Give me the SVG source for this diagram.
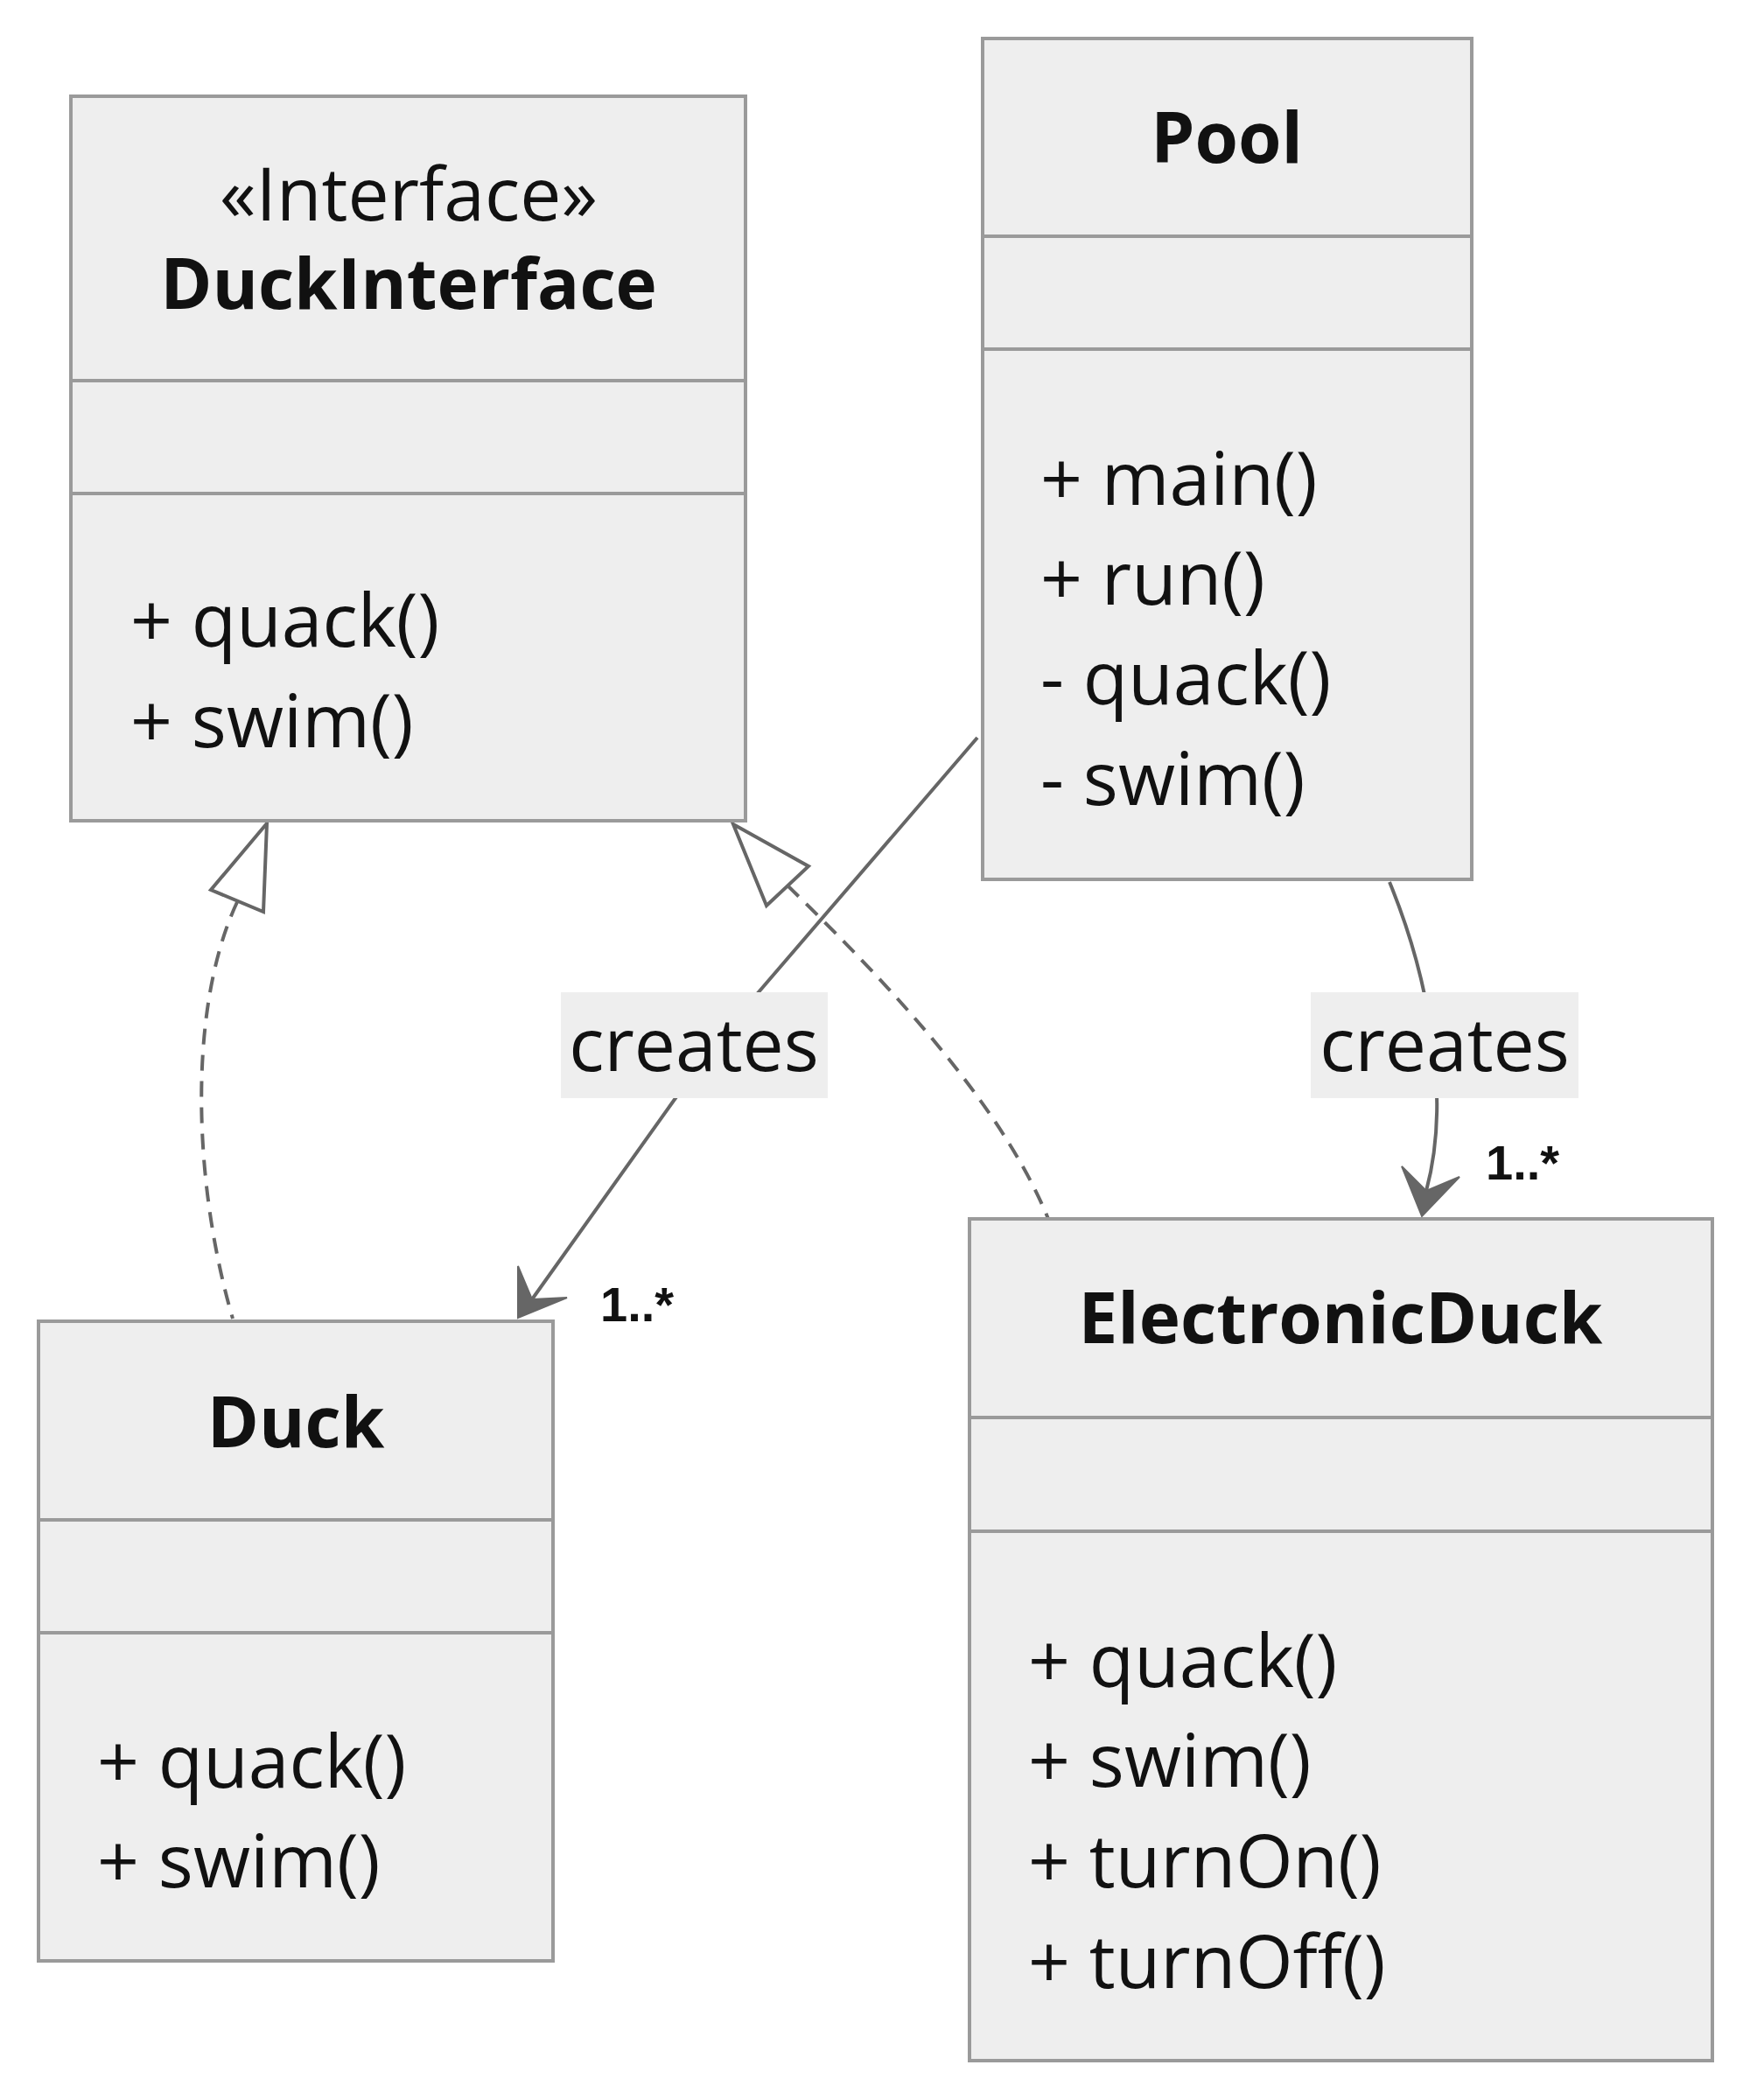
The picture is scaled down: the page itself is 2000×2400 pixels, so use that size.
<svg xmlns="http://www.w3.org/2000/svg" width="2000" height="2400" viewBox="0 0 2000 2400">
<style>
.box{fill:#eeeeee;stroke:#9a9a9a;stroke-width:4}
.div{stroke:#9a9a9a;stroke-width:4}
.t{font-family:"Open Sans","DejaVu Sans",sans-serif;font-size:84px;fill:#111}
.title{font-weight:700;font-size:80px;text-anchor:middle}
.mid{text-anchor:middle}
.edge{fill:none;stroke:#666;stroke-width:4}
.dash{stroke-dasharray:18 12}
.tri{fill:#fff;stroke:#666;stroke-width:4;stroke-linejoin:miter}
.head{fill:#666;stroke:#666;stroke-width:2;stroke-linejoin:miter}
.lbl{fill:#eeeeee}
.card{font-family:"Liberation Sans",Arial,sans-serif;font-size:56px;font-weight:700;fill:#111}
</style>
<rect width="2000" height="2400" fill="#ffffff"/>
<g id="connectors">
  <path class="edge dash" d="M 271 1031 C 215 1150, 220 1350, 266 1507"/>
  <polygon class="tri" points="305,941 241,1017 301,1042"/>
  <path class="edge dash" d="M 900 1012 C 990 1100, 1140 1250, 1198 1393"/>
  <polygon class="tri" points="838,942 924,990 876,1035"/>
  <path class="edge" d="M 1117 843 L 866 1135 L 772 1255 L 608 1485"/>
  <polygon class="head" points="592,1506 592,1447 608,1485 648,1483"/>
  <path class="edge" d="M 1588 1008 C 1630 1110, 1660 1250, 1630 1361"/>
  <polygon class="head" points="1625,1390 1602,1333 1630,1361 1668,1345"/>
  <g id="label-creates-1">
    <rect class="lbl" x="641" y="1134" width="305" height="121"/>
    <text class="t mid" x="793" y="1224">creates</text>
  </g>
  <g id="label-creates-2">
    <rect class="lbl" x="1498" y="1134" width="306" height="121"/>
    <text class="t mid" x="1651" y="1224">creates</text>
  </g>
  <text class="card" x="686" y="1510">1..*</text>
  <text class="card" x="1698" y="1348">1..*</text>
</g>
<g id="DuckInterface">
  <rect class="box" x="81" y="110" width="771" height="828"/>
  <line class="div" x1="81" y1="435" x2="852" y2="435"/>
  <line class="div" x1="81" y1="564" x2="852" y2="564"/>
  <text class="t mid" x="467" y="252">«Interface»</text>
  <text class="t title" x="467" y="353">DuckInterface</text>
  <text class="t" x="149" y="739">+ quack()</text>
  <text class="t" x="149" y="854">+ swim()</text>
</g>
<g id="Pool">
  <rect class="box" x="1123" y="44" width="559" height="961"/>
  <line class="div" x1="1123" y1="270" x2="1682" y2="270"/>
  <line class="div" x1="1123" y1="399" x2="1682" y2="399"/>
  <text class="t title" x="1402" y="186">Pool</text>
  <text class="t" x="1189" y="577">+ main()</text>
  <text class="t" x="1189" y="691">+ run()</text>
  <text class="t" x="1189" y="805">- quack()</text>
  <text class="t" x="1189" y="920">- swim()</text>
</g>
<g id="Duck">
  <rect class="box" x="44" y="1510" width="588" height="731"/>
  <line class="div" x1="44" y1="1737" x2="632" y2="1737"/>
  <line class="div" x1="44" y1="1866" x2="632" y2="1866"/>
  <text class="t title" x="338" y="1654">Duck</text>
  <text class="t" x="111" y="2043">+ quack()</text>
  <text class="t" x="111" y="2157">+ swim()</text>
</g>
<g id="ElectronicDuck">
  <rect class="box" x="1108" y="1393" width="849" height="962"/>
  <line class="div" x1="1108" y1="1620" x2="1957" y2="1620"/>
  <line class="div" x1="1108" y1="1750" x2="1957" y2="1750"/>
  <text class="t title" x="1532" y="1535">ElectronicDuck</text>
  <text class="t" x="1175" y="1928">+ quack()</text>
  <text class="t" x="1175" y="2042">+ swim()</text>
  <text class="t" x="1175" y="2157">+ turnOn()</text>
  <text class="t" x="1175" y="2272">+ turnOff()</text>
</g>
</svg>
